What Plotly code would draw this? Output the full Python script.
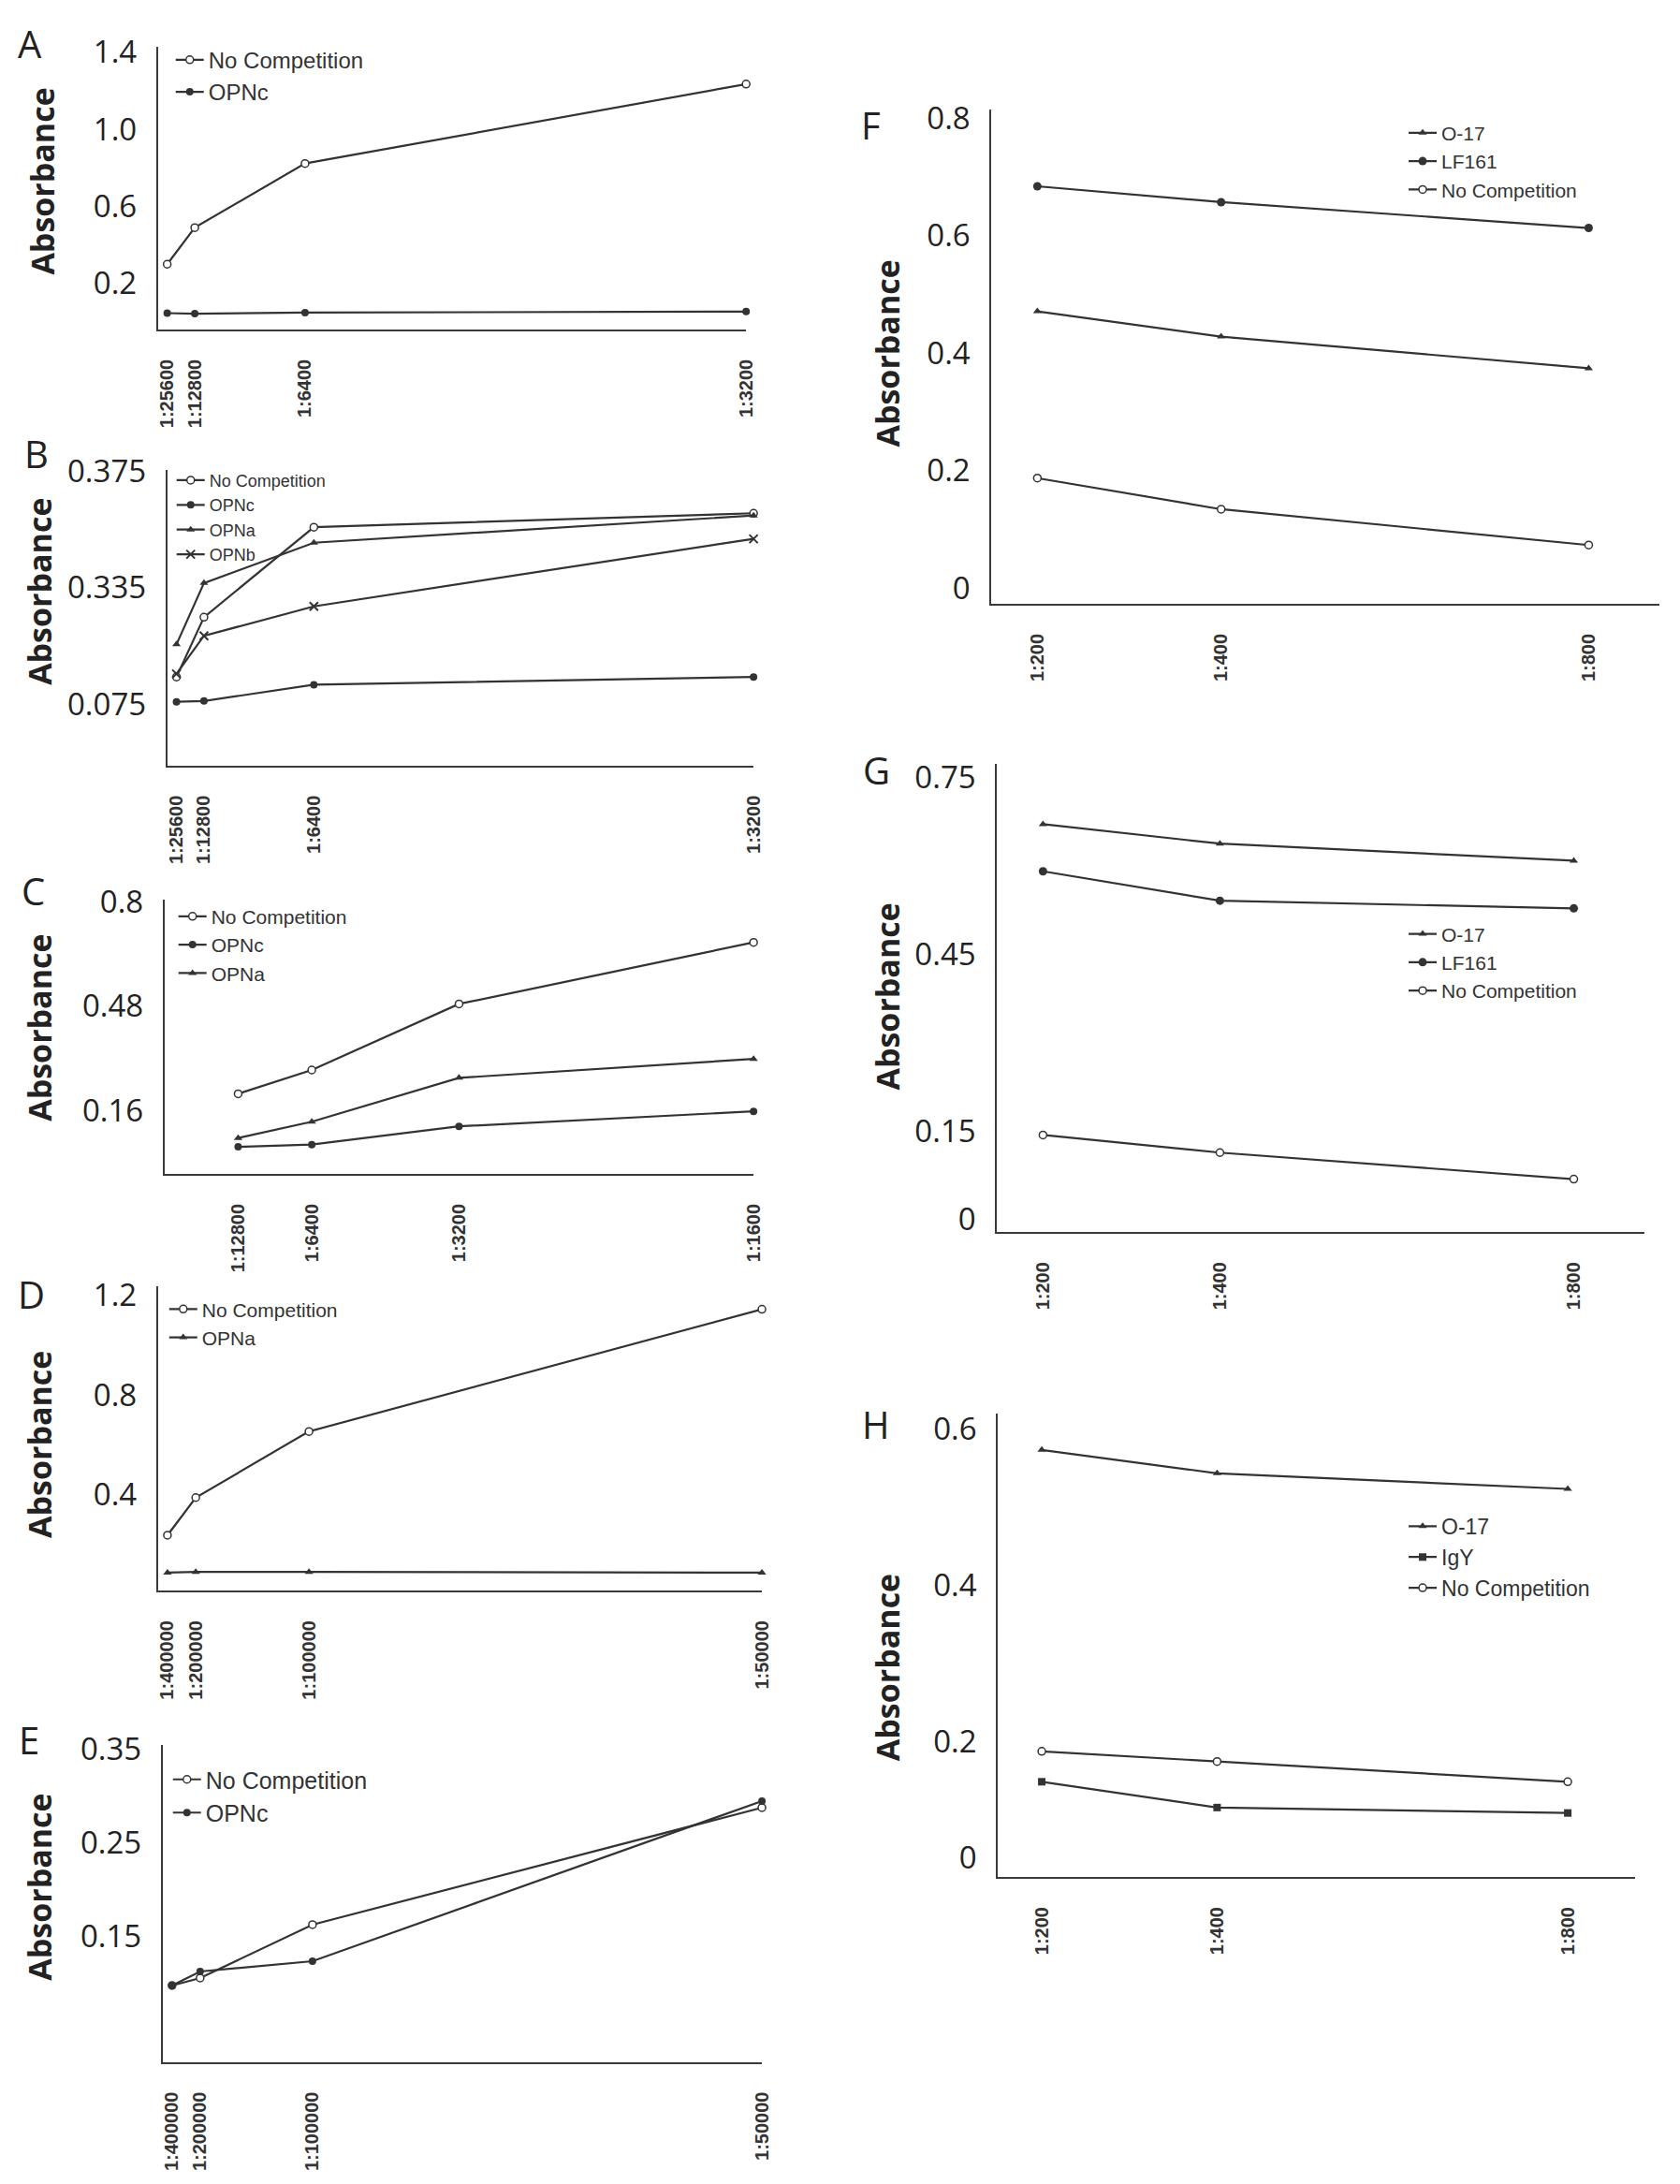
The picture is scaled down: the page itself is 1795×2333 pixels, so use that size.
import plotly.graph_objs as go

# page size; the html body keeps an 8 px margin round the figure
W, H = 1795, 2333
PAD = 8
FW, FH = W - 2 * PAD, H - 2 * PAD

# x positions of the dilutions along each axis
ae_x = [1, 4, 16, 64]
c_x = [8, 16, 32, 64]
fh_x = [200, 400, 800]

# tick labels
ab_ticks = ['1:25600', '1:12800', '1:6400', '1:3200']
c_ticks = ['1:12800', '1:6400', '1:3200', '1:1600']
de_ticks = ['1:400000', '1:200000', '1:100000', '1:50000']
fh_ticks = ['1:200', '1:400', '1:800']

# Panel A
a_nocomp = [0.30, 0.49, 0.823, 1.235]
a_opnc = [0.046, 0.043, 0.049, 0.054]

# Panel B (axis labels in the original are 0.075 / 0.335 / 0.375 at even steps)
b_nocomp = [0.110, 0.187, 0.303, 0.321]
b_opnc = [0.078, 0.079, 0.100, 0.110]
b_opna = [0.152, 0.231, 0.283, 0.318]
b_opnb = [0.114, 0.163, 0.201, 0.288]

# Panel C
c_nocomp = [0.211, 0.284, 0.487, 0.676]
c_opnc = [0.048, 0.055, 0.111, 0.157]
c_opna = [0.075, 0.125, 0.260, 0.318]

# Panel D
d_nocomp = [0.238, 0.389, 0.654, 1.144]
d_opna = [0.088, 0.091, 0.091, 0.088]

# Panel E
e_nocomp = [0.097, 0.105, 0.162, 0.287]
e_opnc = [0.097, 0.112, 0.123, 0.294]

# Panel F
f_o17 = [0.471, 0.428, 0.374]
f_lf161 = [0.684, 0.657, 0.613]
f_nocomp = [0.187, 0.134, 0.073]

# Panel G
g_o17 = [0.671, 0.638, 0.609]
g_lf161 = [0.591, 0.541, 0.528]
g_nocomp = [0.143, 0.113, 0.068]

# Panel H
h_o17 = [0.573, 0.543, 0.523]
h_igy = [0.148, 0.115, 0.108]
h_nocomp = [0.187, 0.174, 0.148]

DARK = '#333333'

markers = {
    'No Competition': dict(symbol='circle', size=8, color='white', line=dict(color=DARK, width=1.5)),
    'OPNc': dict(symbol='circle', size=8, color=DARK),
    'OPNa': dict(symbol='triangle-up', size=8, color=DARK),
    'OPNb': dict(symbol='x-thin', size=9, color=DARK, line=dict(color=DARK, width=2)),
    'O-17': dict(symbol='triangle-up', size=8, color=DARK),
    'LF161': dict(symbol='circle', size=9, color=DARK),
    'IgY': dict(symbol='square', size=8, color=DARK),
}


def px(x):
    return (x - PAD) / FW


def py(y):
    return 1 - (y - PAD) / FH


# panel layout in page pixels: axis box (left, right, top, bottom)
panels = [
    dict(letter='A', box=(168, 801, 28, 334), x=ae_x, xr=[0, 64], xt=ab_ticks,
         yr=[-0.038, 1.43], yv=[0.2, 0.6, 1.0, 1.4], yt=['0.2', '0.6', '1.0', '1.4'],
         series=[('No Competition', a_nocomp), ('OPNc', a_opnc)],
         leg=(188, 41, 24, 30), let=(30, 25), ab=(43, 174)),
    dict(letter='B', box=(178, 809, 486, 806), x=ae_x, xr=[0, 64], xt=ab_ticks,
         yr=[-0.004, 0.377], yv=[0.075, 0.225, 0.375], yt=['0.075', '0.335', '0.375'],
         series=[('No Competition', b_nocomp), ('OPNc', b_opnc), ('OPNa', b_opna), ('OPNb', b_opnb)],
         leg=(189, 496, 18, 22), let=(37, 468), ab=(40, 618)),
    dict(letter='C', box=(175, 809, 951, 1248), x=c_x, xr=[0, 64], xt=c_ticks,
         yr=[-0.035, 0.808], yv=[0.16, 0.48, 0.8], yt=['0.16', '0.48', '0.8'],
         series=[('No Competition', c_nocomp), ('OPNc', c_opnc), ('OPNa', c_opna)],
         leg=(191, 968, 21, 28), let=(34, 942), ab=(40, 1090)),
    dict(letter='D', box=(168, 818, 1370, 1699), x=ae_x, xr=[0, 64], xt=de_ticks,
         yr=[0.016, 1.235], yv=[0.4, 0.8, 1.2], yt=['0.4', '0.8', '1.2'],
         series=[('No Competition', d_nocomp), ('OPNa', d_opna)],
         leg=(181, 1393, 21, 29), let=(32, 1378), ab=(40, 1541)),
    dict(letter='E', box=(173, 818, 1866, 2209), x=ae_x, xr=[0, 64], xt=de_ticks,
         yr=[0.0155, 0.354], yv=[0.15, 0.25, 0.35], yt=['0.15', '0.25', '0.35'],
         series=[('No Competition', e_nocomp), ('OPNc', e_opnc)],
         leg=(185, 1902, 25, 29), let=(29, 1860), ab=(40, 2020)),
    dict(letter='F', box=(1065, 1784, 96, 631), x=fh_x, xr=[150, 877], xt=fh_ticks,
         yr=[-0.027, 0.815], yv=[0, 0.2, 0.4, 0.6, 0.8], yt=['0', '0.2', '0.4', '0.6', '0.8'],
         series=[('O-17', f_o17), ('LF161', f_lf161), ('No Competition', f_nocomp)],
         leg=(1515, 120, 21, 30), let=(935, 113), ab=(953, 360)),
    dict(letter='G', box=(1071, 1768, 804, 1311), x=fh_x, xr=[148, 880], xt=fh_ticks,
         yr=[-0.022, 0.774], yv=[0, 0.15, 0.45, 0.75], yt=['0', '0.15', '0.45', '0.75'],
         series=[('O-17', g_o17), ('LF161', g_lf161), ('No Competition', g_nocomp)],
         leg=(1515, 987, 21, 30), let=(941, 811), ab=(953, 1056)),
    dict(letter='H', box=(1072, 1758, 1507, 2009), x=fh_x, xr=[150, 877], xt=fh_ticks,
         yr=[0.026, 0.62], yv=[0.051, 0.2, 0.4, 0.6], yt=['0', '0.2', '0.4', '0.6'],
         series=[('O-17', h_o17), ('IgY', h_igy), ('No Competition', h_nocomp)],
         leg=(1515, 1628, 23, 28), let=(941, 1519), ab=(953, 1782)),
]

data = []
layout = go.Layout(width=FW, height=FH, margin=dict(l=0, r=0, t=0, b=0),
                   paper_bgcolor='white', plot_bgcolor='white', showlegend=True)
annotations = []

for i, p in enumerate(panels, start=1):
    sfx = '' if i == 1 else str(i)
    left, right, top, bottom = p['box']
    leg_name = 'legend' + sfx
    for name, vals in p['series']:
        data.append(go.Scatter(x=p['x'], y=vals, name=name, mode='lines+markers',
                               xaxis='x' + sfx, yaxis='y' + sfx, legend=leg_name,
                               legendgroup=p['letter'] + name, cliponaxis=False,
                               line=dict(color=DARK, width=2.2), marker=markers[name]))

    layout['xaxis' + sfx] = dict(
        domain=[px(left), px(right)], range=p['xr'], anchor='y' + sfx,
        showline=True, linecolor='#3a3a3a', linewidth=2, showgrid=False, zeroline=False,
        tickmode='array', tickvals=p['x'], ticktext=p['xt'], tickangle=-90, ticks='',
        ticklabelstandoff=22,
        tickfont=dict(family='Liberation Sans', size=20, color='#333', weight='bold'))
    layout['yaxis' + sfx] = dict(
        domain=[py(bottom), py(top)], range=p['yr'], anchor='x' + sfx,
        showline=True, linecolor='#3a3a3a', linewidth=2, showgrid=False, zeroline=False,
        tickmode='array', tickvals=p['yv'], ticktext=p['yt'], ticks='',
        ticklabelstandoff=14,
        tickfont=dict(family='Open Sans', size=33, color='#222'))

    lx, ly, fs, row = p['leg']
    item_h = fs * 1.3 + 3
    layout[leg_name] = dict(
        x=px(lx - 6), y=py(ly - item_h / 2 - 4), xanchor='left', yanchor='top',
        bgcolor='rgba(0,0,0,0)', borderwidth=0, tracegroupgap=max(row - item_h, 0),
        font=dict(family='Liberation Sans', size=fs, color='#333'))

    annotations.append(dict(text=p['letter'], x=px(p['let'][0]), y=py(p['let'][1]),
                            xref='paper', yref='paper', showarrow=False,
                            xanchor='center', yanchor='middle',
                            font=dict(family='Open Sans', size=40, color='#222')))
    annotations.append(dict(text='<b>Absorbance</b>', x=px(p['ab'][0]), y=py(p['ab'][1]),
                            xref='paper', yref='paper', showarrow=False, textangle=-90,
                            xanchor='center', yanchor='middle',
                            font=dict(family='Open Sans', size=34, color='#222')))

layout['annotations'] = annotations

fig = go.Figure(data=data, layout=layout)
fig.write_html('out.html')
